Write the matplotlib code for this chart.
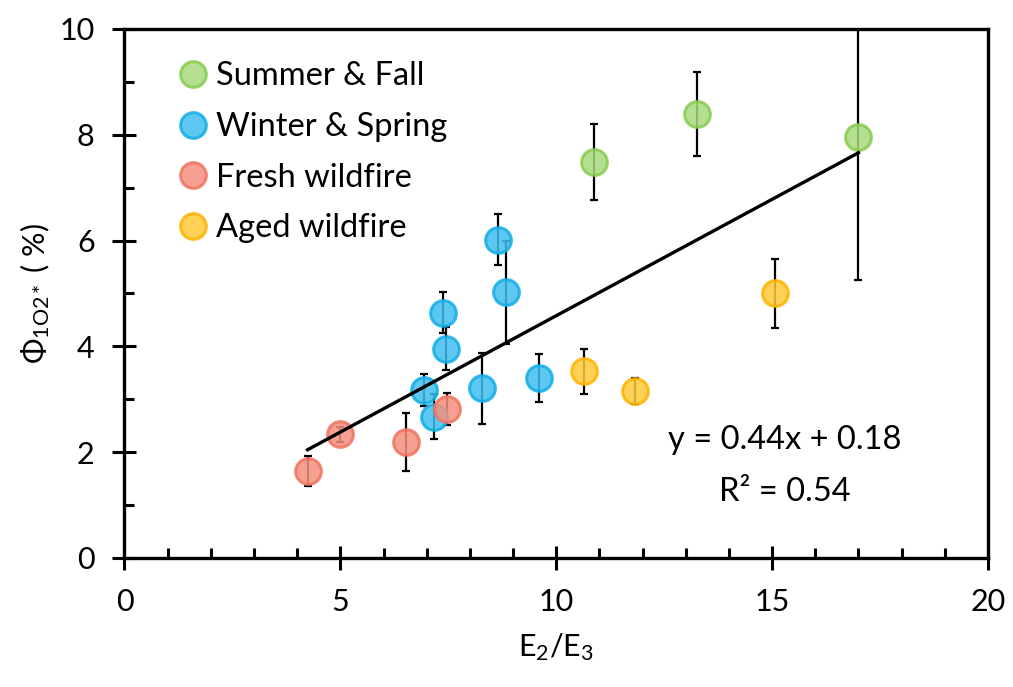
import matplotlib
import matplotlib.pyplot as plt
from matplotlib.lines import Line2D
from matplotlib.ticker import MultipleLocator

matplotlib.use("agg")

plt.rcParams["font.family"] = ["Lato", "DejaVu Sans"]
plt.rcParams["mathtext.fontset"] = "custom"
plt.rcParams["mathtext.rm"] = "Lato"
plt.rcParams["mathtext.it"] = "Lato:italic"

# Data (E2/E3, yield %, error)
summer_x = [10.87, 13.25, 17.0]
summer_y = [7.49, 8.39, 7.95]
summer_err = [0.72, 0.79, 2.69]

winter_x = [8.65, 8.84, 7.38, 7.45, 6.93, 7.16, 8.27, 9.61]
winter_y = [6.02, 5.02, 4.64, 3.96, 3.18, 2.67, 3.21, 3.40]
winter_err = [0.49, 0.97, 0.38, 0.40, 0.30, 0.43, 0.67, 0.45]

fresh_x = [4.24, 5.0, 6.51, 7.47]
fresh_y = [1.65, 2.34, 2.20, 2.81]
fresh_err = [0.28, 0.14, 0.55, 0.30]

aged_x = [10.64, 11.83, 15.06]
aged_y = [3.53, 3.16, 5.00]
aged_err = [0.43, 0.25, 0.66]

slope, intercept, r2 = 0.44, 0.18, 0.54

groups = [
    ("Summer & Fall", summer_x, summer_y, summer_err, "#a9db7e", "#86cc4f"),
    ("Winter & Spring", winter_x, winter_y, winter_err, "#3fbff0", "#12ade6"),
    ("Fresh wildfire", fresh_x, fresh_y, fresh_err, "#f5907f", "#f0735f"),
    ("Aged wildfire", aged_x, aged_y, aged_err, "#ffca3a", "#ffb300"),
]

fig = plt.figure(figsize=(10.13, 6.87), dpi=100)
ax = fig.add_axes([0.1229, 0.1878, 0.8524, 0.77])

handles = []
for label, xs, ys, errs, face, edge in groups:
    ax.errorbar(xs, ys, yerr=errs, fmt="none", ecolor="black",
                elinewidth=1.6, capsize=3, capthick=1.6, zorder=2)
    ax.plot(xs, ys, "o", ms=18.5, mfc=face, mec=edge, mew=2.2,
            alpha=0.85, zorder=3, ls="none")
    handles.append(Line2D([], [], marker="o", ls="none", ms=18.5, mfc=face,
                          mec=edge, mew=2.2, alpha=0.85, label=label))

all_x = summer_x + winter_x + fresh_x + aged_x
x0, x1 = min(all_x), max(all_x)
ax.plot([x0, x1], [slope * x0 + intercept, slope * x1 + intercept],
        color="black", lw=2.4, zorder=4)

ax.set_xlim(0, 20)
ax.set_ylim(0, 10)
ax.xaxis.set_major_locator(MultipleLocator(5))
ax.xaxis.set_minor_locator(MultipleLocator(1))
ax.yaxis.set_major_locator(MultipleLocator(2))
ax.yaxis.set_minor_locator(MultipleLocator(1))
ax.tick_params(which="major", direction="inout", length=17, width=2.2,
               labelsize=22, pad=13)
ax.tick_params(which="minor", direction="in", length=7, width=2.2)
for s in ax.spines.values():
    s.set_linewidth(2.4)

ax.set_xlabel("E$_\\mathrm{2}$/E$_\\mathrm{3}$", fontsize=22, labelpad=11)
ax.set_ylabel("$\\Phi_{\\mathrm{1O2*}}$ ( %)", fontsize=22, labelpad=5)

ax.text(0.765, 0.223, "y = 0.44x + 0.18", transform=ax.transAxes,
        fontsize=23.5, ha="center", va="center")
ax.text(0.765, 0.125, "R² = 0.54", transform=ax.transAxes,
        fontsize=23.5, ha="center", va="center")

ax.legend(handles=handles, loc="upper left", bbox_to_anchor=(0.028, 0.988),
          frameon=False, fontsize=23.5, labelspacing=0.63, handletextpad=0.15,
          handlelength=1.1, borderpad=0.3)

fig.savefig("out.png", dpi=100)
plt.close(fig)
